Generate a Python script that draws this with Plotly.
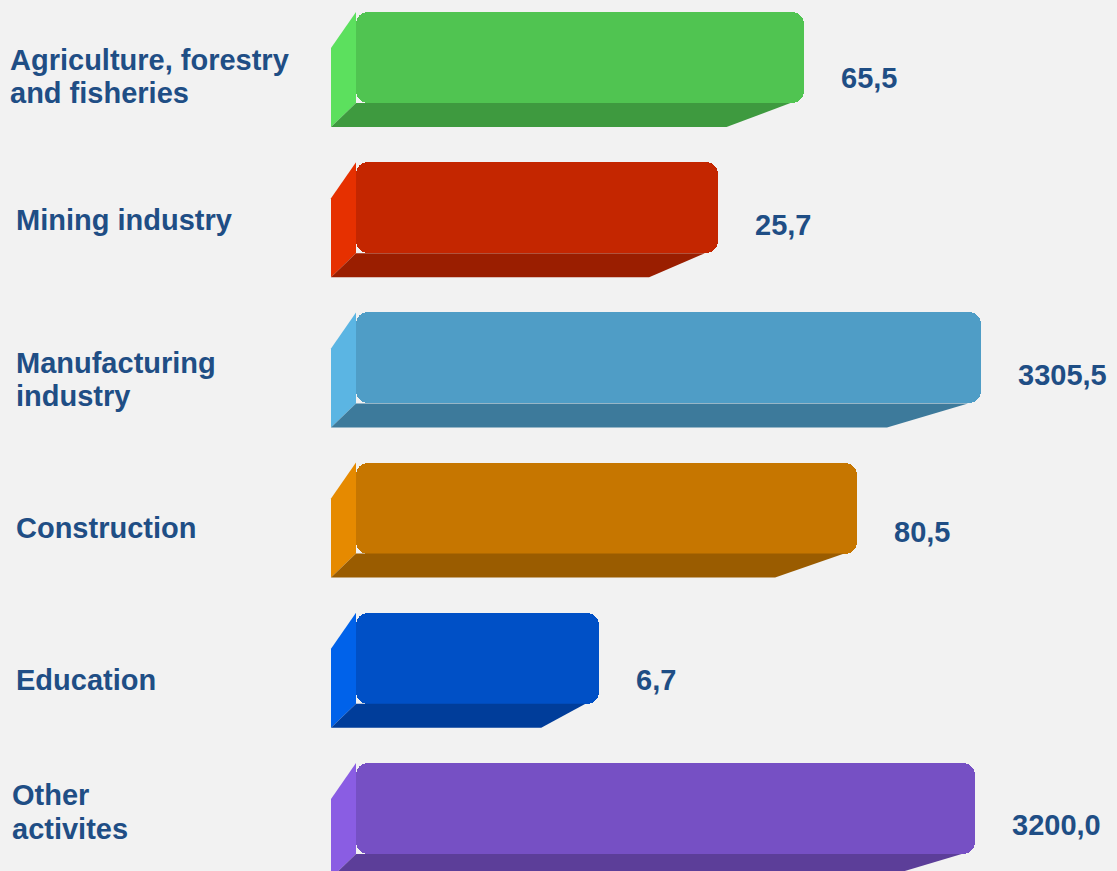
import plotly.graph_objects as go

# ---- data ----
categories = [
    "Agriculture, forestry<br>and fisheries",
    "Mining industry",
    "Manufacturing<br>industry",
    "Construction",
    "Education",
    "Other<br>activites",
]
values = [65.5, 25.7, 3305.5, 80.5, 6.7, 3200.0]
value_labels = ["65,5", "25,7", "3305,5", "80,5", "6,7", "3200,0"]
# The original's bars are not drawn to scale; these are the drawn lengths
# as % of the longest bar.
bar_length = [71.6, 57.9, 100.0, 80.2, 38.8, 99.0]

front_colors = ["#50C451", "#C42600", "#4F9DC6", "#C67600", "#0050C6", "#7650C4"]
side_colors = ["#5CE05E", "#E63000", "#5BB5E3", "#E68A00", "#0062EA", "#8A5DE3"]
bottom_colors = ["#3E9A3F", "#9A1E00", "#3D7A9B", "#9A5C00", "#003D9A", "#5C3E99"]

# ---- layout / style (pixels) ----
W, H = 1117, 871
BASE_PX = 356
PX_PER_UNIT = 625 / 100.0
FIRST_CENTER_PX = 57.5
PITCH_PX = 150.2
BAR_PX = 91
DEPTH_X = 25
DEPTH_Y = 24
SIDE_DROP = 36
LINE_PX = 33.5
CAT_DX = [8, 13.5, 13.5, 13.5, 13.5, 10]       # label left offsets
CAT_DY = [19, 12, 21.5, 20, 21.7, 3.5]         # label drop below bar centre
VAL_DY = [20.5, 17.3, 17.1, 23.9, 21.7, 16.5]  # value label drop below bar centre


def ux(px):
    return px / PX_PER_UNIT


def uy(px):
    return px / PITCH_PX


TEXT_COLOR = "#1F4E85"
FONT = dict(family="Liberation Sans, Arial, sans-serif", size=29, color=TEXT_COLOR, weight="bold")

fig = go.Figure()
ypos = list(range(len(categories)))
half = uy(BAR_PX / 2)

for i, L in enumerate(bar_length):
    top = ypos[i] - half
    bot = ypos[i] + half
    Lpx = L * PX_PER_UNIT
    inset_bot = 34 + 0.096 * Lpx
    # left side face
    fig.add_trace(go.Scatter(
        x=[0, -ux(DEPTH_X), -ux(DEPTH_X), 0, 0],
        y=[top, top + uy(SIDE_DROP), bot + uy(DEPTH_Y), bot, top],
        fill="toself", fillcolor=side_colors[i], mode="lines",
        line=dict(width=0, color=side_colors[i]), hoverinfo="skip", showlegend=False,
    ))
    # bottom face
    fig.add_trace(go.Scatter(
        x=[0, L - ux(13), L - ux(inset_bot), -ux(DEPTH_X), 0],
        y=[bot, bot, bot + uy(DEPTH_Y), bot + uy(DEPTH_Y), bot],
        fill="toself", fillcolor=bottom_colors[i], mode="lines",
        line=dict(width=0, color=bottom_colors[i]), hoverinfo="skip", showlegend=False,
    ))

fig.add_trace(go.Bar(
    x=bar_length, y=ypos, orientation="h", base=0,
    width=uy(BAR_PX),
    marker=dict(color=front_colors, cornerradius=12, line=dict(width=0)),
    customdata=values, hovertemplate="%{customdata}<extra></extra>",
    showlegend=False,
))

annotations = []
for i in ypos:
    annotations.append(dict(
        x=bar_length[i], y=i, xref="x", yref="y", text=value_labels[i],
        showarrow=False, xanchor="left", yanchor="middle", xshift=35, yshift=-VAL_DY[i],
        font=FONT,
    ))
    lines = categories[i].split("<br>")
    n = len(lines)
    for j, line in enumerate(lines):
        off = (j - (n - 1) / 2) * LINE_PX
        annotations.append(dict(
            x=0, y=i, xref="paper", yref="y", text=line, align="left",
            showarrow=False, xanchor="left", yanchor="middle", xshift=CAT_DX[i],
            yshift=-(CAT_DY[i] + off),
            font=FONT,
        ))

fig.update_layout(
    width=W, height=H,
    margin=dict(l=0, r=0, t=0, b=0),
    paper_bgcolor="#F2F2F2", plot_bgcolor="#F2F2F2",
    xaxis=dict(range=[-BASE_PX / PX_PER_UNIT, (W - BASE_PX) / PX_PER_UNIT],
               visible=False, fixedrange=True),
    yaxis=dict(range=[(H - FIRST_CENTER_PX) / PITCH_PX, -FIRST_CENTER_PX / PITCH_PX],
               visible=False, fixedrange=True),
    annotations=annotations,
    bargap=0,
)

fig.write_html(
    "out.html",
    config={"displayModeBar": False},
    post_script="document.body.style.margin='0';document.body.style.overflow='hidden';"
                "document.body.style.background='#F2F2F2';",
)
